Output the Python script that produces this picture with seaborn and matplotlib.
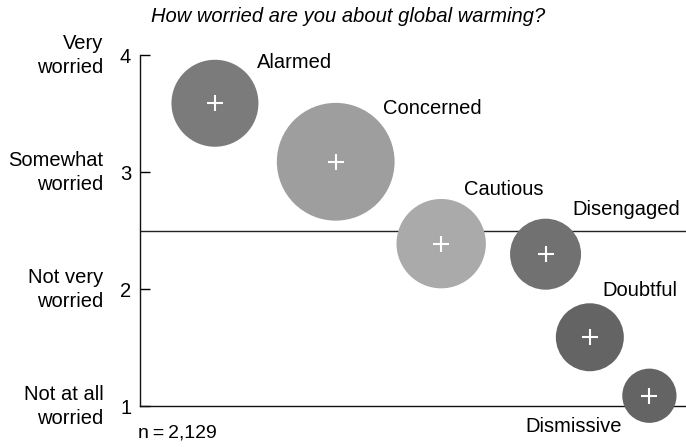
import pandas as pd
import matplotlib
matplotlib.use("Agg")
import matplotlib.pyplot as plt
import seaborn as sns

# data
segments  = ["Alarmed", "Concerned", "Cautious", "Disengaged", "Doubtful", "Dismissive"]
share_pct = [18, 33, 19, 12, 11, 7]
x_pos     = [13.8, 35.9, 55.2, 74.3, 82.4, 93.3]
worry     = [3.59, 3.09, 2.39, 2.30, 1.59, 1.09]
y_ticks   = [1, 2, 3, 4]
y_names   = ["Not at all\nworried", "Not very\nworried", "Somewhat\nworried", "Very\nworried"]
seg_colors = ["#7b7b7b", "#9e9e9e", "#aaaaaa", "#717171", "#646464", "#646464"]

df = pd.DataFrame({"segment": segments, "share": share_pct, "x": x_pos, "worry": worry})

sns.set_theme(style="white")
plt.rcParams["font.family"] = ["Liberation Sans", "DejaVu Sans"]

fig = plt.figure(figsize=(6.86, 4.47), dpi=100)
ax = fig.add_axes([0.2034, 0.0911, 0.7966, 0.7852])

ax.axhline(2.5, color="#222222", linewidth=1.0, zorder=1)

sns.scatterplot(data=df, x="x", y="worry", hue="segment", size="share",
                palette=dict(zip(segments, seg_colors)),
                sizes=(0, 7190), size_norm=(0, 33), linewidth=0,
                alpha=1, legend=False, zorder=3, clip_on=False, ax=ax)
sns.scatterplot(data=df, x="x", y="worry", marker="+", color="white",
                s=130, linewidth=1.5, legend=False, zorder=4, clip_on=False, ax=ax)

# label offsets in pixels from the bubble centres
label_offsets = {
    "Alarmed": (42, 41, "left"),
    "Concerned": (47, 53, "left"),
    "Cautious": (23, 54, "left"),
    "Disengaged": (27, 45, "left"),
    "Doubtful": (13, 47, "left"),
    "Dismissive": (-28, -31, "right"),
}
for _, row in df.iterrows():
    dx, dy, ha = label_offsets[row["segment"]]
    ax.annotate(row["segment"], (row["x"], row["worry"]), xytext=(dx, dy),
                textcoords="offset pixels", ha=ha, va="center",
                fontsize=14.5, color="black", annotation_clip=False)

ax.set_xlim(0, 100)
ax.set_ylim(1, 4)
ax.set_xticks([])
ax.set_yticks(y_ticks)
ax.set_yticklabels([str(t) for t in y_ticks], fontsize=14.5)
ax.tick_params(axis="y", left=True, direction="in", length=7.5, width=1.0,
               pad=6, colors="black")
ax.set_xlabel("")
ax.set_ylabel("")
for side in ["top", "right"]:
    ax.spines[side].set_visible(False)
for side in ["left", "bottom"]:
    ax.spines[side].set_color("#111111")
    ax.spines[side].set_linewidth(1.0)

yt = ax.get_yaxis_transform()
for t, name in zip(y_ticks, y_names):
    ax.text(-0.066, t, name, transform=yt, ha="right", va="center",
            fontsize=14.5, linespacing=1.3, color="black")

fig.text(0.507, 0.962, "How worried are you about global warming?",
         ha="center", va="center", fontsize=14.5, style="italic", color="black")
fig.text(0.201, 0.031, "n\u2009=\u20092,129", ha="left", va="center",
         fontsize=14, color="black", family=["Liberation Sans", "DejaVu Sans"])

fig.savefig("out.png", dpi=100)
